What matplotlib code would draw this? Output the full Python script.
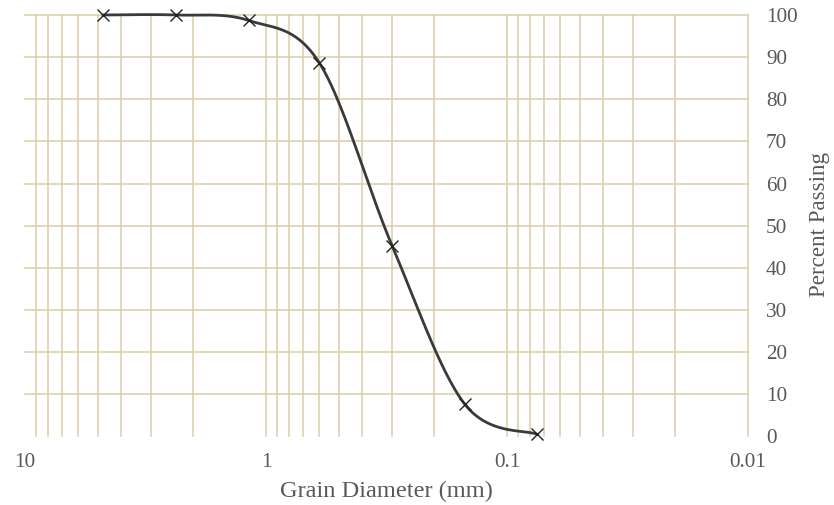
import numpy as np
import matplotlib
matplotlib.use("Agg")
import matplotlib.pyplot as plt
from matplotlib.ticker import FixedLocator, NullFormatter

# Data (sieve sizes in mm and percent passing)
grain_diameter = [4.75, 2.36, 1.18, 0.6, 0.3, 0.15, 0.075]
percent_passing = [100.0, 100.0, 98.7, 88.6, 45.3, 7.7, 0.5]

x_major_ticks = [10, 1, 0.1, 0.01]
x_major_labels = ["10", "1", "0.1", "0.01"]
y_ticks = list(range(0, 101, 10))

GRID = "#D8CEA6"
TEXT = "#595959"
FONT = "Liberation Serif"


def excel_smooth(xs, ys, n=40):
    """Bezier smoothing (Catmull-Rom like) as used by spreadsheet 'smoothed line'."""
    lx = np.log10(np.asarray(xs, float))
    ly = np.asarray(ys, float)
    P = np.column_stack([lx, ly])
    out = []
    m = len(P)
    for i in range(m - 1):
        p0 = P[i - 1] if i > 0 else P[i]
        p1 = P[i]
        p2 = P[i + 1]
        p3 = P[i + 2] if i + 2 < m else P[i + 1]
        c1 = p1 + (p2 - p0) / 6.0
        c2 = p2 - (p3 - p1) / 6.0
        t = np.linspace(0, 1, n)[:, None]
        seg = ((1 - t) ** 3) * p1 + 3 * ((1 - t) ** 2) * t * c1 + 3 * (1 - t) * t ** 2 * c2 + t ** 3 * p2
        out.append(seg if i == 0 else seg[1:])
    S = np.vstack(out)
    return 10 ** S[:, 0], S[:, 1]


fig = plt.figure(figsize=(8.34, 5.05), dpi=100)
ax = fig.add_axes([25 / 834, 1 - 436.4 / 505, (748 - 25) / 834, (436.4 - 15) / 505])

ax.set_xscale("log")
ax.set_xlim(10, 0.01)
ax.set_ylim(0, 100)

# smoothed curve + markers
sx, sy = excel_smooth(grain_diameter, percent_passing)
ax.plot(sx, sy, color="#3a3a3a", lw=2.0, zorder=3, solid_capstyle="round", clip_on=False)
ax.plot(grain_diameter, percent_passing, linestyle="none", marker="x",
        markersize=8, markeredgewidth=1.0, color="#222222", zorder=4, clip_on=False)

# axes styling
for s in ax.spines.values():
    s.set_visible(False)

ax.xaxis.set_major_locator(FixedLocator(x_major_ticks))
ax.set_xticklabels(x_major_labels)
minor = []
for dec in [1, 0.1, 0.01]:
    for k in range(2, 10):
        minor.append(k * dec)
ax.xaxis.set_minor_locator(FixedLocator(minor))
ax.xaxis.set_minor_formatter(NullFormatter())

ax.set_yticks(y_ticks)
ax.yaxis.tick_right()

ax.tick_params(axis="both", which="both", length=0)
ax.tick_params(axis="x", which="major", pad=12, labelsize=15.3, labelcolor=TEXT)
ax.tick_params(axis="y", which="major", pad=13, labelsize=15.3, labelcolor=TEXT)
for lbl in ax.get_xticklabels() + ax.get_yticklabels():
    lbl.set_fontfamily(FONT)
for lbl in ax.get_yticklabels():
    lbl.set_horizontalalignment("left")

ax.grid(True, which="both", axis="x", color=GRID, lw=1.1)
ax.grid(True, which="major", axis="y", color=GRID, lw=1.1)
ax.set_axisbelow(True)

# no gridline at the left edge (10) and none along y = 0
for tk, v in zip(ax.xaxis.get_major_ticks(), x_major_ticks):
    tk.gridline.set_clip_on(False)
    if v == 10:
        tk.gridline.set_visible(False)
for tk in ax.xaxis.get_minor_ticks():
    tk.gridline.set_clip_on(False)
for tk, v in zip(ax.yaxis.get_major_ticks(), y_ticks):
    tk.gridline.set_clip_on(False)
    if v == 0:
        tk.gridline.set_visible(False)

ax.set_xlabel("Grain Diameter (mm)", fontsize=17.6, color=TEXT, family=FONT, labelpad=6)
fig.text(820 / 834, 1 - 224 / 505, "Percent Passing", rotation=90, ha="center", va="center",
         fontsize=16.6, color=TEXT, family=FONT)

fig.savefig("out.png", dpi=100)
